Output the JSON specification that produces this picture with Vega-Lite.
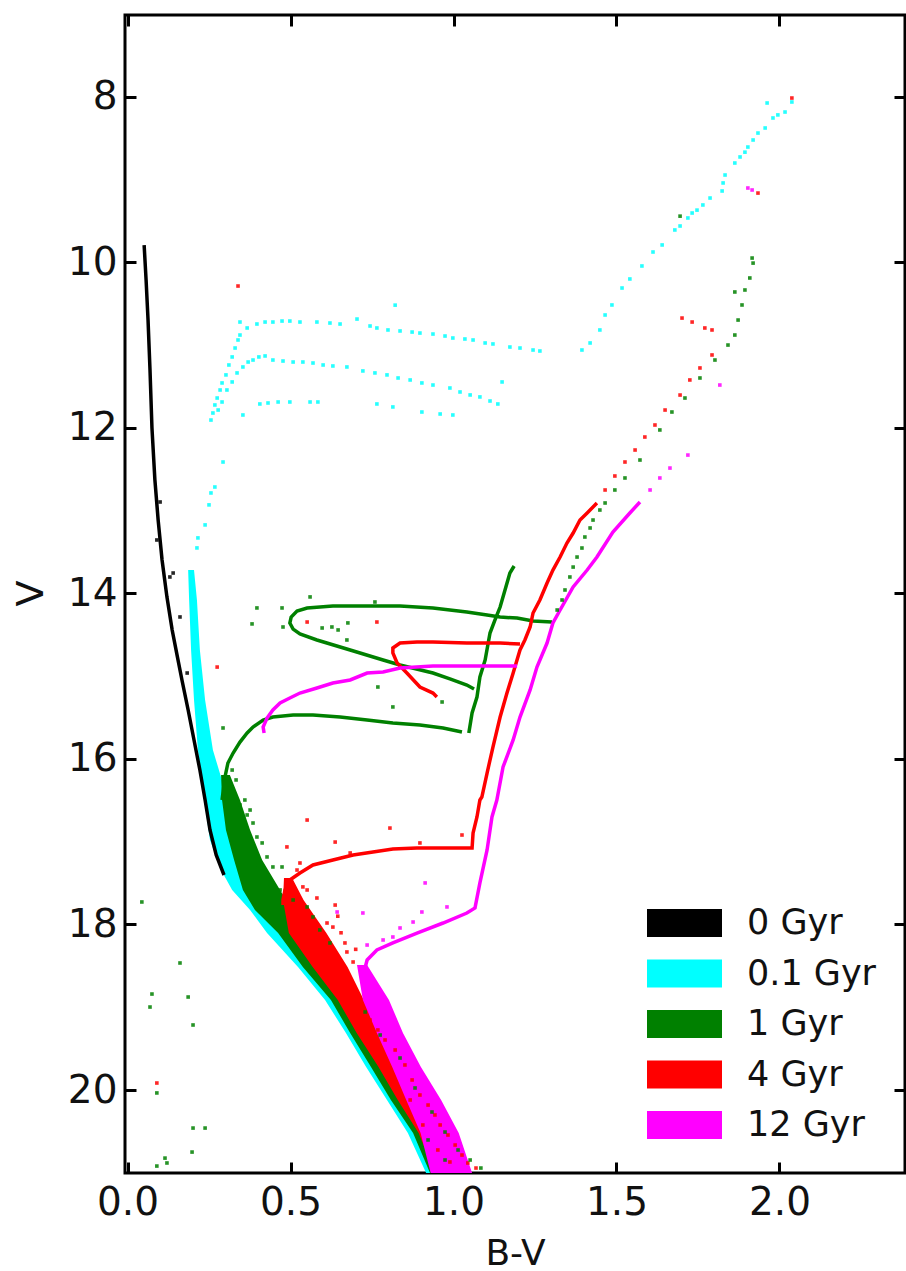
{
  "$schema": "https://vega.github.io/schema/vega-lite/v6.json",
  "autosize": "none",
  "width": 780,
  "height": 1158,
  "padding": {"left": 125, "top": 15, "right": 1, "bottom": 98},
  "background": "white",
  "config": {
    "view": {"stroke": "black", "strokeWidth": 3},
    "font": "DejaVu Sans",
    "legend": {"orient": "none", "legendX": 522, "legendY": 893, "title": null, "padding": 0,
      "symbolType": "M-1,-0.373L1,-0.373L1,0.373L-1,0.373Z", "symbolSize": 5625, "symbolOpacity": 1, "symbolStrokeWidth": 0,
      "clipHeight": 30, "rowPadding": 15.5, "labelOffset": 25, "labelFont": "DejaVu Sans", "labelFontSize": 35, "labelColor": "#111", "labelLimit": 400, "labelBaseline": "middle"}
  },
  "data": {"values": [
    {"a":"0.1 Gyr","k":"b","y":13.718,"x":0.186,"x2":0.204},
    {"a":"0.1 Gyr","k":"b","y":14.080,"x":0.189,"x2":0.213},
    {"a":"0.1 Gyr","k":"b","y":14.684,"x":0.195,"x2":0.222},
    {"a":"0.1 Gyr","k":"b","y":15.288,"x":0.204,"x2":0.238},
    {"a":"0.1 Gyr","k":"b","y":15.892,"x":0.216,"x2":0.262},
    {"a":"0.1 Gyr","k":"b","y":16.496,"x":0.235,"x2":0.308},
    {"a":"0.1 Gyr","k":"b","y":16.979,"x":0.253,"x2":0.339},
    {"a":"0.1 Gyr","k":"b","y":17.342,"x":0.287,"x2":0.364},
    {"a":"0.1 Gyr","k":"b","y":17.583,"x":0.321,"x2":0.400},
    {"a":"0.1 Gyr","k":"b","y":17.825,"x":0.376,"x2":0.456},
    {"a":"0.1 Gyr","k":"b","y":18.103,"x":0.428,"x2":0.505},
    {"a":"0.1 Gyr","k":"b","y":18.513,"x":0.523,"x2":0.590},
    {"a":"0.1 Gyr","k":"b","y":18.912,"x":0.606,"x2":0.667},
    {"a":"0.1 Gyr","k":"b","y":19.311,"x":0.670,"x2":0.729},
    {"a":"0.1 Gyr","k":"b","y":19.721,"x":0.732,"x2":0.790},
    {"a":"0.1 Gyr","k":"b","y":20.120,"x":0.796,"x2":0.851},
    {"a":"0.1 Gyr","k":"b","y":20.519,"x":0.860,"x2":0.912},
    {"a":"0.1 Gyr","k":"b","y":21.002,"x":0.916,"x2":0.959},

    {"a":"1 Gyr","k":"b","y":16.194,"x":0.287,"x2":0.314},
    {"a":"1 Gyr","k":"b","y":16.496,"x":0.290,"x2":0.345},
    {"a":"1 Gyr","k":"b","y":16.858,"x":0.302,"x2":0.376},
    {"a":"1 Gyr","k":"b","y":17.221,"x":0.327,"x2":0.413},
    {"a":"1 Gyr","k":"b","y":17.583,"x":0.354,"x2":0.468},
    {"a":"1 Gyr","k":"b","y":17.825,"x":0.391,"x2":0.505},
    {"a":"1 Gyr","k":"b","y":18.103,"x":0.462,"x2":0.540},
    {"a":"1 Gyr","k":"b","y":18.513,"x":0.538,"x2":0.610},
    {"a":"1 Gyr","k":"b","y":18.912,"x":0.624,"x2":0.680},
    {"a":"1 Gyr","k":"b","y":19.311,"x":0.683,"x2":0.740},
    {"a":"1 Gyr","k":"b","y":19.721,"x":0.747,"x2":0.805},
    {"a":"1 Gyr","k":"b","y":20.120,"x":0.808,"x2":0.870},
    {"a":"1 Gyr","k":"b","y":20.519,"x":0.876,"x2":0.937},
    {"a":"1 Gyr","k":"b","y":21.002,"x":0.928,"x2":0.995},

    {"a":"4 Gyr","k":"b","y":17.438,"x":0.480,"x2":0.505},
    {"a":"4 Gyr","k":"b","y":17.704,"x":0.477,"x2":0.540},
    {"a":"4 Gyr","k":"b","y":18.103,"x":0.495,"x2":0.610},
    {"a":"4 Gyr","k":"b","y":18.513,"x":0.568,"x2":0.675},
    {"a":"4 Gyr","k":"b","y":18.912,"x":0.645,"x2":0.725},
    {"a":"4 Gyr","k":"b","y":19.311,"x":0.703,"x2":0.775},
    {"a":"4 Gyr","k":"b","y":19.721,"x":0.770,"x2":0.830},
    {"a":"4 Gyr","k":"b","y":20.120,"x":0.829,"x2":0.888},
    {"a":"4 Gyr","k":"b","y":20.519,"x":0.893,"x2":0.948},
    {"a":"4 Gyr","k":"b","y":21.002,"x":0.943,"x2":1.010},

    {"a":"12 Gyr","k":"b","y":18.489,"x":0.704,"x2":0.735},
    {"a":"12 Gyr","k":"b","y":18.912,"x":0.722,"x2":0.802},
    {"a":"12 Gyr","k":"b","y":19.311,"x":0.765,"x2":0.845},
    {"a":"12 Gyr","k":"b","y":19.721,"x":0.812,"x2":0.900},
    {"a":"12 Gyr","k":"b","y":20.120,"x":0.855,"x2":0.962},
    {"a":"12 Gyr","k":"b","y":20.519,"x":0.899,"x2":1.016},
    {"a":"12 Gyr","k":"b","y":21.002,"x":0.930,"x2":1.057},

    {"a":"0 Gyr","k":"l","s":"k1","x":0.051,"y":9.792},
    {"a":"0 Gyr","k":"l","s":"k1","x":0.057,"y":10.214},
    {"a":"0 Gyr","k":"l","s":"k1","x":0.063,"y":10.698},
    {"a":"0 Gyr","k":"l","s":"k1","x":0.069,"y":11.302},
    {"a":"0 Gyr","k":"l","s":"k1","x":0.075,"y":12.002},
    {"a":"0 Gyr","k":"l","s":"k1","x":0.084,"y":12.630},
    {"a":"0 Gyr","k":"l","s":"k1","x":0.094,"y":13.114},
    {"a":"0 Gyr","k":"l","s":"k1","x":0.106,"y":13.597},
    {"a":"0 Gyr","k":"l","s":"k1","x":0.121,"y":14.045},
    {"a":"0 Gyr","k":"l","s":"k1","x":0.137,"y":14.442},
    {"a":"0 Gyr","k":"l","s":"k1","x":0.152,"y":14.745},
    {"a":"0 Gyr","k":"l","s":"k1","x":0.167,"y":15.046},
    {"a":"0 Gyr","k":"l","s":"k1","x":0.186,"y":15.409},
    {"a":"0 Gyr","k":"l","s":"k1","x":0.204,"y":15.771},
    {"a":"0 Gyr","k":"l","s":"k1","x":0.222,"y":16.134},
    {"a":"0 Gyr","k":"l","s":"k1","x":0.238,"y":16.496},
    {"a":"0 Gyr","k":"l","s":"k1","x":0.253,"y":16.858},
    {"a":"0 Gyr","k":"l","s":"k1","x":0.272,"y":17.160},
    {"a":"0 Gyr","k":"l","s":"k1","x":0.296,"y":17.402},

    {"a":"1 Gyr","k":"l","s":"g1","x":0.290,"y":16.496},
    {"a":"1 Gyr","k":"l","s":"g1","x":0.299,"y":16.218},
    {"a":"1 Gyr","k":"l","s":"g1","x":0.308,"y":16.049},
    {"a":"1 Gyr","k":"l","s":"g1","x":0.324,"y":15.929},
    {"a":"1 Gyr","k":"l","s":"g1","x":0.345,"y":15.796},
    {"a":"1 Gyr","k":"l","s":"g1","x":0.367,"y":15.687},
    {"a":"1 Gyr","k":"l","s":"g1","x":0.385,"y":15.615},
    {"a":"1 Gyr","k":"l","s":"g1","x":0.416,"y":15.530},
    {"a":"1 Gyr","k":"l","s":"g1","x":0.446,"y":15.494},
    {"a":"1 Gyr","k":"l","s":"g1","x":0.508,"y":15.470},
    {"a":"1 Gyr","k":"l","s":"g1","x":0.569,"y":15.470},
    {"a":"1 Gyr","k":"l","s":"g1","x":0.652,"y":15.494},
    {"a":"1 Gyr","k":"l","s":"g1","x":0.735,"y":15.530},
    {"a":"1 Gyr","k":"l","s":"g1","x":0.814,"y":15.567},
    {"a":"1 Gyr","k":"l","s":"g1","x":0.897,"y":15.591},
    {"a":"1 Gyr","k":"l","s":"g1","x":0.968,"y":15.627},
    {"a":"1 Gyr","k":"l","s":"g1","x":1.026,"y":15.675},

    {"a":"1 Gyr","k":"l","s":"g2","x":1.047,"y":15.687},
    {"a":"1 Gyr","k":"l","s":"g2","x":1.057,"y":15.445},
    {"a":"1 Gyr","k":"l","s":"g2","x":1.072,"y":15.252},
    {"a":"1 Gyr","k":"l","s":"g2","x":1.081,"y":15.010},
    {"a":"1 Gyr","k":"l","s":"g2","x":1.097,"y":14.805},
    {"a":"1 Gyr","k":"l","s":"g2","x":1.112,"y":14.479},
    {"a":"1 Gyr","k":"l","s":"g2","x":1.127,"y":14.322},
    {"a":"1 Gyr","k":"l","s":"g2","x":1.143,"y":14.165},
    {"a":"1 Gyr","k":"l","s":"g2","x":1.158,"y":13.959},
    {"a":"1 Gyr","k":"l","s":"g2","x":1.173,"y":13.754},
    {"a":"1 Gyr","k":"l","s":"g2","x":1.186,"y":13.669},

    {"a":"1 Gyr","k":"l","s":"g3","x":1.302,"y":14.346},
    {"a":"1 Gyr","k":"l","s":"g3","x":1.244,"y":14.334},
    {"a":"1 Gyr","k":"l","s":"g3","x":1.195,"y":14.298},
    {"a":"1 Gyr","k":"l","s":"g3","x":1.143,"y":14.286},
    {"a":"1 Gyr","k":"l","s":"g3","x":1.103,"y":14.262},
    {"a":"1 Gyr","k":"l","s":"g3","x":1.041,"y":14.225},
    {"a":"1 Gyr","k":"l","s":"g3","x":0.937,"y":14.177},
    {"a":"1 Gyr","k":"l","s":"g3","x":0.836,"y":14.153},
    {"a":"1 Gyr","k":"l","s":"g3","x":0.735,"y":14.153},
    {"a":"1 Gyr","k":"l","s":"g3","x":0.630,"y":14.153},
    {"a":"1 Gyr","k":"l","s":"g3","x":0.551,"y":14.177},
    {"a":"1 Gyr","k":"l","s":"g3","x":0.520,"y":14.213},
    {"a":"1 Gyr","k":"l","s":"g3","x":0.502,"y":14.286},
    {"a":"1 Gyr","k":"l","s":"g3","x":0.498,"y":14.358},
    {"a":"1 Gyr","k":"l","s":"g3","x":0.508,"y":14.431},
    {"a":"1 Gyr","k":"l","s":"g3","x":0.529,"y":14.491},
    {"a":"1 Gyr","k":"l","s":"g3","x":0.581,"y":14.563},
    {"a":"1 Gyr","k":"l","s":"g3","x":0.683,"y":14.684},
    {"a":"1 Gyr","k":"l","s":"g3","x":0.784,"y":14.805},
    {"a":"1 Gyr","k":"l","s":"g3","x":0.836,"y":14.865},
    {"a":"1 Gyr","k":"l","s":"g3","x":0.937,"y":14.962},
    {"a":"1 Gyr","k":"l","s":"g3","x":0.989,"y":15.034},
    {"a":"1 Gyr","k":"l","s":"g3","x":1.041,"y":15.107},
    {"a":"1 Gyr","k":"l","s":"g3","x":1.063,"y":15.155},

    {"a":"4 Gyr","k":"l","s":"r1","x":0.477,"y":17.765},
    {"a":"4 Gyr","k":"l","s":"r1","x":0.477,"y":17.704},
    {"a":"4 Gyr","k":"l","s":"r1","x":0.483,"y":17.583},
    {"a":"4 Gyr","k":"l","s":"r1","x":0.498,"y":17.462},
    {"a":"4 Gyr","k":"l","s":"r1","x":0.529,"y":17.378},
    {"a":"4 Gyr","k":"l","s":"r1","x":0.569,"y":17.281},
    {"a":"4 Gyr","k":"l","s":"r1","x":0.630,"y":17.221},
    {"a":"4 Gyr","k":"l","s":"r1","x":0.692,"y":17.160},
    {"a":"4 Gyr","k":"l","s":"r1","x":0.753,"y":17.124},
    {"a":"4 Gyr","k":"l","s":"r1","x":0.814,"y":17.088},
    {"a":"4 Gyr","k":"l","s":"r1","x":0.888,"y":17.076},
    {"a":"4 Gyr","k":"l","s":"r1","x":0.989,"y":17.076},
    {"a":"4 Gyr","k":"l","s":"r1","x":1.057,"y":17.076},
    {"a":"4 Gyr","k":"l","s":"r1","x":1.060,"y":16.895},
    {"a":"4 Gyr","k":"l","s":"r1","x":1.072,"y":16.701},
    {"a":"4 Gyr","k":"l","s":"r1","x":1.081,"y":16.496},
    {"a":"4 Gyr","k":"l","s":"r1","x":1.087,"y":16.460},
    {"a":"4 Gyr","k":"l","s":"r1","x":1.103,"y":16.170},
    {"a":"4 Gyr","k":"l","s":"r1","x":1.121,"y":15.856},
    {"a":"4 Gyr","k":"l","s":"r1","x":1.143,"y":15.494},
    {"a":"4 Gyr","k":"l","s":"r1","x":1.164,"y":15.204},
    {"a":"4 Gyr","k":"l","s":"r1","x":1.183,"y":14.962},
    {"a":"4 Gyr","k":"l","s":"r1","x":1.204,"y":14.684},
    {"a":"4 Gyr","k":"l","s":"r1","x":1.219,"y":14.563},
    {"a":"4 Gyr","k":"l","s":"r1","x":1.235,"y":14.406},
    {"a":"4 Gyr","k":"l","s":"r1","x":1.244,"y":14.237},
    {"a":"4 Gyr","k":"l","s":"r1","x":1.265,"y":14.080},
    {"a":"4 Gyr","k":"l","s":"r1","x":1.287,"y":13.875},
    {"a":"4 Gyr","k":"l","s":"r1","x":1.305,"y":13.718},
    {"a":"4 Gyr","k":"l","s":"r1","x":1.327,"y":13.561},
    {"a":"4 Gyr","k":"l","s":"r1","x":1.348,"y":13.392},
    {"a":"4 Gyr","k":"l","s":"r1","x":1.367,"y":13.271},
    {"a":"4 Gyr","k":"l","s":"r1","x":1.388,"y":13.114},
    {"a":"4 Gyr","k":"l","s":"r1","x":1.410,"y":13.029},
    {"a":"4 Gyr","k":"l","s":"r1","x":1.440,"y":12.908},

    {"a":"4 Gyr","k":"l","s":"r2","x":1.204,"y":14.612},
    {"a":"4 Gyr","k":"l","s":"r2","x":1.143,"y":14.600},
    {"a":"4 Gyr","k":"l","s":"r2","x":1.041,"y":14.600},
    {"a":"4 Gyr","k":"l","s":"r2","x":0.937,"y":14.587},
    {"a":"4 Gyr","k":"l","s":"r2","x":0.888,"y":14.587},
    {"a":"4 Gyr","k":"l","s":"r2","x":0.836,"y":14.600},
    {"a":"4 Gyr","k":"l","s":"r2","x":0.814,"y":14.660},
    {"a":"4 Gyr","k":"l","s":"r2","x":0.814,"y":14.720},
    {"a":"4 Gyr","k":"l","s":"r2","x":0.827,"y":14.841},
    {"a":"4 Gyr","k":"l","s":"r2","x":0.857,"y":14.962},
    {"a":"4 Gyr","k":"l","s":"r2","x":0.897,"y":15.131},
    {"a":"4 Gyr","k":"l","s":"r2","x":0.937,"y":15.204},
    {"a":"4 Gyr","k":"l","s":"r2","x":0.949,"y":15.252},

    {"a":"12 Gyr","k":"l","s":"m1","x":0.719,"y":18.670},
    {"a":"12 Gyr","k":"l","s":"m1","x":0.735,"y":18.429},
    {"a":"12 Gyr","k":"l","s":"m1","x":0.765,"y":18.308},
    {"a":"12 Gyr","k":"l","s":"m1","x":0.814,"y":18.223},
    {"a":"12 Gyr","k":"l","s":"m1","x":0.888,"y":18.103},
    {"a":"12 Gyr","k":"l","s":"m1","x":0.968,"y":17.982},
    {"a":"12 Gyr","k":"l","s":"m1","x":1.041,"y":17.861},
    {"a":"12 Gyr","k":"l","s":"m1","x":1.066,"y":17.800},
    {"a":"12 Gyr","k":"l","s":"m1","x":1.081,"y":17.498},
    {"a":"12 Gyr","k":"l","s":"m1","x":1.103,"y":17.100},
    {"a":"12 Gyr","k":"l","s":"m1","x":1.118,"y":16.701},
    {"a":"12 Gyr","k":"l","s":"m1","x":1.133,"y":16.496},
    {"a":"12 Gyr","k":"l","s":"m1","x":1.152,"y":16.097},
    {"a":"12 Gyr","k":"l","s":"m1","x":1.183,"y":15.771},
    {"a":"12 Gyr","k":"l","s":"m1","x":1.204,"y":15.494},
    {"a":"12 Gyr","k":"l","s":"m1","x":1.235,"y":15.167},
    {"a":"12 Gyr","k":"l","s":"m1","x":1.256,"y":14.890},
    {"a":"12 Gyr","k":"l","s":"m1","x":1.287,"y":14.600},
    {"a":"12 Gyr","k":"l","s":"m1","x":1.305,"y":14.358},
    {"a":"12 Gyr","k":"l","s":"m1","x":1.327,"y":14.201},
    {"a":"12 Gyr","k":"l","s":"m1","x":1.367,"y":13.923},
    {"a":"12 Gyr","k":"l","s":"m1","x":1.410,"y":13.718},
    {"a":"12 Gyr","k":"l","s":"m1","x":1.440,"y":13.561},
    {"a":"12 Gyr","k":"l","s":"m1","x":1.489,"y":13.259},
    {"a":"12 Gyr","k":"l","s":"m1","x":1.541,"y":13.029},
    {"a":"12 Gyr","k":"l","s":"m1","x":1.572,"y":12.896},

    {"a":"12 Gyr","k":"l","s":"m2","x":0.419,"y":15.687},
    {"a":"12 Gyr","k":"l","s":"m2","x":0.416,"y":15.615},
    {"a":"12 Gyr","k":"l","s":"m2","x":0.428,"y":15.506},
    {"a":"12 Gyr","k":"l","s":"m2","x":0.446,"y":15.409},
    {"a":"12 Gyr","k":"l","s":"m2","x":0.468,"y":15.324},
    {"a":"12 Gyr","k":"l","s":"m2","x":0.498,"y":15.264},
    {"a":"12 Gyr","k":"l","s":"m2","x":0.529,"y":15.204},
    {"a":"12 Gyr","k":"l","s":"m2","x":0.581,"y":15.143},
    {"a":"12 Gyr","k":"l","s":"m2","x":0.630,"y":15.083},
    {"a":"12 Gyr","k":"l","s":"m2","x":0.683,"y":15.046},
    {"a":"12 Gyr","k":"l","s":"m2","x":0.735,"y":14.962},
    {"a":"12 Gyr","k":"l","s":"m2","x":0.784,"y":14.950},
    {"a":"12 Gyr","k":"l","s":"m2","x":0.836,"y":14.901},
    {"a":"12 Gyr","k":"l","s":"m2","x":0.937,"y":14.877},
    {"a":"12 Gyr","k":"l","s":"m2","x":1.041,"y":14.877},
    {"a":"12 Gyr","k":"l","s":"m2","x":1.143,"y":14.877},
    {"a":"12 Gyr","k":"l","s":"m2","x":1.195,"y":14.877},

    {"a":"0 Gyr","k":"d","x":0.130,"y":13.802},
    {"a":"0 Gyr","k":"d","x":0.161,"y":14.285},
    {"a":"0 Gyr","k":"d","x":0.183,"y":14.962},
    {"a":"0 Gyr","k":"d","x":0.090,"y":13.355},
    {"a":"0 Gyr","k":"d","x":0.100,"y":12.896},
    {"a":"0 Gyr","k":"d","x":0.140,"y":13.754},

    {"a":"0.1 Gyr","k":"d","x":1.394,"y":11.060},
    {"a":"0.1 Gyr","k":"d","x":1.419,"y":10.975},
    {"a":"0.1 Gyr","k":"d","x":1.449,"y":10.818},
    {"a":"0.1 Gyr","k":"d","x":1.465,"y":10.637},
    {"a":"0.1 Gyr","k":"d","x":1.486,"y":10.516},
    {"a":"0.1 Gyr","k":"d","x":1.517,"y":10.311},
    {"a":"0.1 Gyr","k":"d","x":1.541,"y":10.202},
    {"a":"0.1 Gyr","k":"d","x":1.578,"y":10.045},
    {"a":"0.1 Gyr","k":"d","x":1.612,"y":9.876},
    {"a":"0.1 Gyr","k":"d","x":1.640,"y":9.791},
    {"a":"0.1 Gyr","k":"d","x":1.679,"y":9.610},
    {"a":"0.1 Gyr","k":"d","x":1.695,"y":9.562},
    {"a":"0.1 Gyr","k":"d","x":1.719,"y":9.465},
    {"a":"0.1 Gyr","k":"d","x":1.732,"y":9.405},
    {"a":"0.1 Gyr","k":"d","x":1.747,"y":9.370},
    {"a":"0.1 Gyr","k":"d","x":1.765,"y":9.308},
    {"a":"0.1 Gyr","k":"d","x":1.787,"y":9.224},
    {"a":"0.1 Gyr","k":"d","x":1.824,"y":9.139},
    {"a":"0.1 Gyr","k":"d","x":1.827,"y":9.042},
    {"a":"0.1 Gyr","k":"d","x":1.833,"y":8.946},
    {"a":"0.1 Gyr","k":"d","x":1.863,"y":8.801},
    {"a":"0.1 Gyr","k":"d","x":1.879,"y":8.728},
    {"a":"0.1 Gyr","k":"d","x":1.894,"y":8.670},
    {"a":"0.1 Gyr","k":"d","x":1.903,"y":8.608},
    {"a":"0.1 Gyr","k":"d","x":1.919,"y":8.523},
    {"a":"0.1 Gyr","k":"d","x":1.934,"y":8.439},
    {"a":"0.1 Gyr","k":"d","x":1.956,"y":8.378},
    {"a":"0.1 Gyr","k":"d","x":1.980,"y":8.257},
    {"a":"0.1 Gyr","k":"d","x":1.995,"y":8.220},
    {"a":"0.1 Gyr","k":"d","x":2.017,"y":8.185},
    {"a":"0.1 Gyr","k":"d","x":1.962,"y":8.076},
    {"a":"0.1 Gyr","k":"d","x":2.038,"y":8.064},

    {"a":"0.1 Gyr","k":"d","x":0.345,"y":10.722},
    {"a":"0.1 Gyr","k":"d","x":0.367,"y":10.794},
    {"a":"0.1 Gyr","k":"d","x":0.397,"y":10.746},
    {"a":"0.1 Gyr","k":"d","x":0.422,"y":10.722},
    {"a":"0.1 Gyr","k":"d","x":0.446,"y":10.722},
    {"a":"0.1 Gyr","k":"d","x":0.474,"y":10.710},
    {"a":"0.1 Gyr","k":"d","x":0.498,"y":10.710},
    {"a":"0.1 Gyr","k":"d","x":0.529,"y":10.722},
    {"a":"0.1 Gyr","k":"d","x":0.581,"y":10.722},
    {"a":"0.1 Gyr","k":"d","x":0.621,"y":10.734},
    {"a":"0.1 Gyr","k":"d","x":0.652,"y":10.746},
    {"a":"0.1 Gyr","k":"d","x":0.704,"y":10.686},
    {"a":"0.1 Gyr","k":"d","x":0.744,"y":10.770},
    {"a":"0.1 Gyr","k":"d","x":0.765,"y":10.794},
    {"a":"0.1 Gyr","k":"d","x":0.799,"y":10.818},
    {"a":"0.1 Gyr","k":"d","x":0.836,"y":10.830},
    {"a":"0.1 Gyr","k":"d","x":0.873,"y":10.843},
    {"a":"0.1 Gyr","k":"d","x":0.897,"y":10.855},
    {"a":"0.1 Gyr","k":"d","x":0.937,"y":10.867},
    {"a":"0.1 Gyr","k":"d","x":0.974,"y":10.891},
    {"a":"0.1 Gyr","k":"d","x":0.998,"y":10.915},
    {"a":"0.1 Gyr","k":"d","x":1.035,"y":10.927},
    {"a":"0.1 Gyr","k":"d","x":1.060,"y":10.939},
    {"a":"0.1 Gyr","k":"d","x":1.097,"y":10.975},
    {"a":"0.1 Gyr","k":"d","x":1.121,"y":10.987},
    {"a":"0.1 Gyr","k":"d","x":1.173,"y":11.024},
    {"a":"0.1 Gyr","k":"d","x":1.204,"y":11.036},
    {"a":"0.1 Gyr","k":"d","x":1.244,"y":11.060},
    {"a":"0.1 Gyr","k":"d","x":1.265,"y":11.072},

    {"a":"0.1 Gyr","k":"d","x":0.256,"y":11.906},
    {"a":"0.1 Gyr","k":"d","x":0.262,"y":11.821},
    {"a":"0.1 Gyr","k":"d","x":0.268,"y":11.724},
    {"a":"0.1 Gyr","k":"d","x":0.275,"y":11.640},
    {"a":"0.1 Gyr","k":"d","x":0.284,"y":11.543},
    {"a":"0.1 Gyr","k":"d","x":0.290,"y":11.458},
    {"a":"0.1 Gyr","k":"d","x":0.302,"y":11.361},
    {"a":"0.1 Gyr","k":"d","x":0.311,"y":11.241},
    {"a":"0.1 Gyr","k":"d","x":0.321,"y":11.144},
    {"a":"0.1 Gyr","k":"d","x":0.330,"y":11.036},
    {"a":"0.1 Gyr","k":"d","x":0.339,"y":10.939},
    {"a":"0.1 Gyr","k":"d","x":0.345,"y":10.879},

    {"a":"0.1 Gyr","k":"d","x":0.278,"y":11.785},
    {"a":"0.1 Gyr","k":"d","x":0.290,"y":11.688},
    {"a":"0.1 Gyr","k":"d","x":0.305,"y":11.543},
    {"a":"0.1 Gyr","k":"d","x":0.321,"y":11.446},
    {"a":"0.1 Gyr","k":"d","x":0.336,"y":11.337},
    {"a":"0.1 Gyr","k":"d","x":0.354,"y":11.265},
    {"a":"0.1 Gyr","k":"d","x":0.370,"y":11.205},
    {"a":"0.1 Gyr","k":"d","x":0.385,"y":11.181},
    {"a":"0.1 Gyr","k":"d","x":0.403,"y":11.144},
    {"a":"0.1 Gyr","k":"d","x":0.422,"y":11.132},
    {"a":"0.1 Gyr","k":"d","x":0.446,"y":11.181},
    {"a":"0.1 Gyr","k":"d","x":0.477,"y":11.193},
    {"a":"0.1 Gyr","k":"d","x":0.508,"y":11.205},
    {"a":"0.1 Gyr","k":"d","x":0.538,"y":11.205},
    {"a":"0.1 Gyr","k":"d","x":0.569,"y":11.217},
    {"a":"0.1 Gyr","k":"d","x":0.600,"y":11.241},
    {"a":"0.1 Gyr","k":"d","x":0.630,"y":11.253},
    {"a":"0.1 Gyr","k":"d","x":0.673,"y":11.265},
    {"a":"0.1 Gyr","k":"d","x":0.722,"y":11.313},
    {"a":"0.1 Gyr","k":"d","x":0.759,"y":11.337},
    {"a":"0.1 Gyr","k":"d","x":0.796,"y":11.361},
    {"a":"0.1 Gyr","k":"d","x":0.830,"y":11.398},
    {"a":"0.1 Gyr","k":"d","x":0.867,"y":11.422},
    {"a":"0.1 Gyr","k":"d","x":0.903,"y":11.458},
    {"a":"0.1 Gyr","k":"d","x":0.937,"y":11.483},
    {"a":"0.1 Gyr","k":"d","x":0.989,"y":11.519},
    {"a":"0.1 Gyr","k":"d","x":1.020,"y":11.567},
    {"a":"0.1 Gyr","k":"d","x":1.051,"y":11.603},
    {"a":"0.1 Gyr","k":"d","x":1.081,"y":11.627},
    {"a":"0.1 Gyr","k":"d","x":1.112,"y":11.676},
    {"a":"0.1 Gyr","k":"d","x":1.136,"y":11.712},

    {"a":"0.1 Gyr","k":"d","x":0.354,"y":11.845},
    {"a":"0.1 Gyr","k":"d","x":0.406,"y":11.712},
    {"a":"0.1 Gyr","k":"d","x":0.431,"y":11.700},
    {"a":"0.1 Gyr","k":"d","x":0.462,"y":11.688},
    {"a":"0.1 Gyr","k":"d","x":0.498,"y":11.688},
    {"a":"0.1 Gyr","k":"d","x":0.560,"y":11.688},
    {"a":"0.1 Gyr","k":"d","x":0.584,"y":11.688},
    {"a":"0.1 Gyr","k":"d","x":0.765,"y":11.712},
    {"a":"0.1 Gyr","k":"d","x":0.814,"y":11.748},
    {"a":"0.1 Gyr","k":"d","x":0.903,"y":11.809},
    {"a":"0.1 Gyr","k":"d","x":0.959,"y":11.833},
    {"a":"0.1 Gyr","k":"d","x":0.998,"y":11.845},
    {"a":"0.1 Gyr","k":"d","x":0.821,"y":10.518},
    {"a":"0.1 Gyr","k":"d","x":1.149,"y":11.446},

    {"a":"0.1 Gyr","k":"d","x":0.213,"y":13.451},
    {"a":"0.1 Gyr","k":"d","x":0.216,"y":13.330},
    {"a":"0.1 Gyr","k":"d","x":0.238,"y":13.173},
    {"a":"0.1 Gyr","k":"d","x":0.250,"y":12.931},
    {"a":"0.1 Gyr","k":"d","x":0.256,"y":12.787},
    {"a":"0.1 Gyr","k":"d","x":0.268,"y":12.715},
    {"a":"0.1 Gyr","k":"d","x":0.293,"y":12.413},

    {"a":"1 Gyr","k":"d","x":1.318,"y":14.201},
    {"a":"1 Gyr","k":"d","x":1.333,"y":14.080},
    {"a":"1 Gyr","k":"d","x":1.342,"y":13.959},
    {"a":"1 Gyr","k":"d","x":1.357,"y":13.802},
    {"a":"1 Gyr","k":"d","x":1.367,"y":13.682},
    {"a":"1 Gyr","k":"d","x":1.379,"y":13.561},
    {"a":"1 Gyr","k":"d","x":1.394,"y":13.452},
    {"a":"1 Gyr","k":"d","x":1.403,"y":13.319},
    {"a":"1 Gyr","k":"d","x":1.419,"y":13.210},
    {"a":"1 Gyr","k":"d","x":1.428,"y":13.114},
    {"a":"1 Gyr","k":"d","x":1.449,"y":12.993},
    {"a":"1 Gyr","k":"d","x":1.465,"y":12.908},
    {"a":"1 Gyr","k":"d","x":1.495,"y":12.751},
    {"a":"1 Gyr","k":"d","x":1.526,"y":12.606},
    {"a":"1 Gyr","k":"d","x":1.572,"y":12.389},
    {"a":"1 Gyr","k":"d","x":1.633,"y":12.026},
    {"a":"1 Gyr","k":"d","x":1.670,"y":11.809},
    {"a":"1 Gyr","k":"d","x":1.710,"y":11.640},
    {"a":"1 Gyr","k":"d","x":1.756,"y":11.398},
    {"a":"1 Gyr","k":"d","x":1.802,"y":11.181},
    {"a":"1 Gyr","k":"d","x":1.842,"y":11.000},
    {"a":"1 Gyr","k":"d","x":1.863,"y":10.879},
    {"a":"1 Gyr","k":"d","x":1.873,"y":10.698},
    {"a":"1 Gyr","k":"d","x":1.885,"y":10.516},
    {"a":"1 Gyr","k":"d","x":1.863,"y":10.359},
    {"a":"1 Gyr","k":"d","x":1.894,"y":10.335},
    {"a":"1 Gyr","k":"d","x":1.909,"y":10.190},
    {"a":"1 Gyr","k":"d","x":1.919,"y":10.010},
    {"a":"1 Gyr","k":"d","x":1.916,"y":9.949},
    {"a":"1 Gyr","k":"d","x":1.695,"y":9.443},

    {"a":"1 Gyr","k":"d","x":0.044,"y":17.728},
    {"a":"1 Gyr","k":"d","x":0.161,"y":18.465},
    {"a":"1 Gyr","k":"d","x":0.075,"y":18.840},
    {"a":"1 Gyr","k":"d","x":0.186,"y":18.876},
    {"a":"1 Gyr","k":"d","x":0.069,"y":18.997},
    {"a":"1 Gyr","k":"d","x":0.201,"y":19.214},
    {"a":"1 Gyr","k":"d","x":0.201,"y":20.459},
    {"a":"1 Gyr","k":"d","x":0.238,"y":20.459},
    {"a":"1 Gyr","k":"d","x":0.198,"y":20.749},
    {"a":"1 Gyr","k":"d","x":0.115,"y":20.822},
    {"a":"1 Gyr","k":"d","x":0.090,"y":20.918},
    {"a":"1 Gyr","k":"d","x":0.121,"y":20.881},
    {"a":"1 Gyr","k":"d","x":0.090,"y":20.035},
    {"a":"1 Gyr","k":"d","x":0.560,"y":14.043},
    {"a":"1 Gyr","k":"d","x":0.397,"y":14.176},
    {"a":"1 Gyr","k":"d","x":0.474,"y":14.176},
    {"a":"1 Gyr","k":"d","x":0.382,"y":14.369},
    {"a":"1 Gyr","k":"d","x":0.477,"y":14.406},
    {"a":"1 Gyr","k":"d","x":0.597,"y":14.418},
    {"a":"1 Gyr","k":"d","x":0.627,"y":14.406},
    {"a":"1 Gyr","k":"d","x":0.646,"y":14.442},
    {"a":"1 Gyr","k":"d","x":0.676,"y":14.357},
    {"a":"1 Gyr","k":"d","x":0.673,"y":14.563},
    {"a":"1 Gyr","k":"d","x":0.759,"y":14.104},
    {"a":"1 Gyr","k":"d","x":0.768,"y":15.131},
    {"a":"1 Gyr","k":"d","x":0.814,"y":15.372},
    {"a":"1 Gyr","k":"d","x":0.965,"y":15.312},
    {"a":"1 Gyr","k":"d","x":0.293,"y":15.626},
    {"a":"1 Gyr","k":"d","x":0.345,"y":16.556},
    {"a":"1 Gyr","k":"d","x":0.367,"y":16.677},
    {"a":"1 Gyr","k":"d","x":0.385,"y":16.774},
    {"a":"1 Gyr","k":"d","x":0.397,"y":16.943},
    {"a":"1 Gyr","k":"d","x":0.413,"y":17.015},
    {"a":"1 Gyr","k":"d","x":0.428,"y":17.184},
    {"a":"1 Gyr","k":"d","x":0.446,"y":17.305},
    {"a":"1 Gyr","k":"d","x":0.474,"y":17.305},
    {"a":"1 Gyr","k":"d","x":0.416,"y":17.426},
    {"a":"1 Gyr","k":"d","x":0.437,"y":17.546},
    {"a":"1 Gyr","k":"d","x":0.468,"y":17.583},
    {"a":"1 Gyr","k":"d","x":0.508,"y":17.704},
    {"a":"1 Gyr","k":"d","x":0.551,"y":17.788},
    {"a":"1 Gyr","k":"d","x":0.569,"y":17.909},
    {"a":"1 Gyr","k":"d","x":0.590,"y":18.066},
    {"a":"1 Gyr","k":"d","x":0.621,"y":18.223},
    {"a":"1 Gyr","k":"d","x":0.314,"y":16.375},
    {"a":"1 Gyr","k":"d","x":0.330,"y":16.436},
    {"a":"1 Gyr","k":"d","x":0.360,"y":16.496},
    {"a":"1 Gyr","k":"d","x":0.376,"y":16.617},
    {"a":"1 Gyr","k":"d","x":0.339,"y":16.858},
    {"a":"1 Gyr","k":"d","x":0.360,"y":17.100},
    {"a":"1 Gyr","k":"d","x":0.391,"y":17.281},
    {"a":"1 Gyr","k":"d","x":0.308,"y":16.315},
    {"a":"1 Gyr","k":"d","x":0.321,"y":16.134},
    {"a":"1 Gyr","k":"d","x":0.333,"y":16.254},

    {"a":"4 Gyr","k":"d","x":1.465,"y":12.751},
    {"a":"4 Gyr","k":"d","x":1.495,"y":12.582},
    {"a":"4 Gyr","k":"d","x":1.526,"y":12.413},
    {"a":"4 Gyr","k":"d","x":1.557,"y":12.268},
    {"a":"4 Gyr","k":"d","x":1.587,"y":12.111},
    {"a":"4 Gyr","k":"d","x":1.618,"y":11.966},
    {"a":"4 Gyr","k":"d","x":1.649,"y":11.785},
    {"a":"4 Gyr","k":"d","x":1.695,"y":11.604},
    {"a":"4 Gyr","k":"d","x":1.725,"y":11.422},
    {"a":"4 Gyr","k":"d","x":1.756,"y":11.277},
    {"a":"4 Gyr","k":"d","x":1.793,"y":11.120},
    {"a":"4 Gyr","k":"d","x":1.701,"y":10.674},
    {"a":"4 Gyr","k":"d","x":1.732,"y":10.722},
    {"a":"4 Gyr","k":"d","x":1.793,"y":10.818},
    {"a":"4 Gyr","k":"d","x":1.771,"y":10.794},
    {"a":"4 Gyr","k":"d","x":2.038,"y":8.016},
    {"a":"4 Gyr","k":"d","x":1.934,"y":9.164},
    {"a":"4 Gyr","k":"d","x":0.339,"y":10.287},
    {"a":"4 Gyr","k":"d","x":0.090,"y":19.915},
    {"a":"4 Gyr","k":"d","x":0.551,"y":16.738},
    {"a":"4 Gyr","k":"d","x":0.637,"y":17.004},
    {"a":"4 Gyr","k":"d","x":0.805,"y":16.835},
    {"a":"4 Gyr","k":"d","x":1.026,"y":16.919},
    {"a":"4 Gyr","k":"d","x":0.897,"y":17.015},
    {"a":"4 Gyr","k":"d","x":0.683,"y":17.136},
    {"a":"4 Gyr","k":"d","x":0.489,"y":17.063},
    {"a":"4 Gyr","k":"d","x":0.529,"y":17.257},
    {"a":"4 Gyr","k":"d","x":0.520,"y":17.342},
    {"a":"4 Gyr","k":"d","x":0.538,"y":17.546},
    {"a":"4 Gyr","k":"d","x":0.551,"y":17.583},
    {"a":"4 Gyr","k":"d","x":0.581,"y":17.680},
    {"a":"4 Gyr","k":"d","x":0.612,"y":17.982},
    {"a":"4 Gyr","k":"d","x":0.630,"y":18.031},
    {"a":"4 Gyr","k":"d","x":0.667,"y":18.223},
    {"a":"4 Gyr","k":"d","x":0.673,"y":18.332},
    {"a":"4 Gyr","k":"d","x":0.692,"y":18.453},
    {"a":"4 Gyr","k":"d","x":0.551,"y":14.346},
    {"a":"4 Gyr","k":"d","x":0.765,"y":14.346},
    {"a":"4 Gyr","k":"d","x":0.275,"y":14.890},
    {"a":"4 Gyr","k":"d","x":0.498,"y":17.885},
    {"a":"4 Gyr","k":"d","x":0.523,"y":18.006},
    {"a":"4 Gyr","k":"d","x":0.560,"y":18.187},
    {"a":"4 Gyr","k":"d","x":0.597,"y":18.369},
    {"a":"4 Gyr","k":"d","x":0.637,"y":17.765},
    {"a":"4 Gyr","k":"d","x":0.655,"y":18.100},
    {"a":"4 Gyr","k":"d","x":0.700,"y":18.300},
    {"a":"4 Gyr","k":"d","x":0.645,"y":17.900},

    {"a":"12 Gyr","k":"d","x":1.603,"y":12.751},
    {"a":"12 Gyr","k":"d","x":1.633,"y":12.606},
    {"a":"12 Gyr","k":"d","x":1.664,"y":12.486},
    {"a":"12 Gyr","k":"d","x":1.719,"y":12.329},
    {"a":"12 Gyr","k":"d","x":1.817,"y":11.483},
    {"a":"12 Gyr","k":"d","x":1.903,"y":9.103},
    {"a":"12 Gyr","k":"d","x":1.916,"y":9.127},
    {"a":"12 Gyr","k":"d","x":0.913,"y":17.498},
    {"a":"12 Gyr","k":"d","x":0.643,"y":17.849},
    {"a":"12 Gyr","k":"d","x":0.722,"y":17.861},
    {"a":"12 Gyr","k":"d","x":0.903,"y":17.849},
    {"a":"12 Gyr","k":"d","x":0.980,"y":17.788},
    {"a":"12 Gyr","k":"d","x":0.836,"y":18.042},
    {"a":"12 Gyr","k":"d","x":0.876,"y":17.970},
    {"a":"12 Gyr","k":"d","x":0.735,"y":18.248},
    {"a":"12 Gyr","k":"d","x":0.784,"y":18.187},
    {"a":"12 Gyr","k":"d","x":0.814,"y":18.151},

    {"a":"4 Gyr","k":"d","x":0.790,"y":19.395},
    {"a":"4 Gyr","k":"d","x":0.821,"y":19.516},
    {"a":"4 Gyr","k":"d","x":0.851,"y":19.697},
    {"a":"4 Gyr","k":"d","x":0.873,"y":19.878},
    {"a":"4 Gyr","k":"d","x":0.897,"y":20.060},
    {"a":"4 Gyr","k":"d","x":0.922,"y":20.181},
    {"a":"4 Gyr","k":"d","x":0.943,"y":20.301},
    {"a":"4 Gyr","k":"d","x":0.959,"y":20.422},
    {"a":"4 Gyr","k":"d","x":0.983,"y":20.543},
    {"a":"4 Gyr","k":"d","x":1.005,"y":20.664},
    {"a":"4 Gyr","k":"d","x":1.026,"y":20.785},
    {"a":"4 Gyr","k":"d","x":1.044,"y":20.881},
    {"a":"4 Gyr","k":"d","x":1.069,"y":20.942},
    {"a":"4 Gyr","k":"d","x":0.768,"y":19.274},
    {"a":"4 Gyr","k":"d","x":0.744,"y":19.154},
    {"a":"4 Gyr","k":"d","x":0.906,"y":20.422},
    {"a":"4 Gyr","k":"d","x":0.952,"y":20.724},
    {"a":"4 Gyr","k":"d","x":0.989,"y":20.869},
    {"a":"4 Gyr","k":"d","x":0.867,"y":20.120},
    {"a":"1 Gyr","k":"d","x":0.836,"y":19.613},
    {"a":"1 Gyr","k":"d","x":0.882,"y":19.975},
    {"a":"1 Gyr","k":"d","x":0.934,"y":20.265},
    {"a":"1 Gyr","k":"d","x":0.974,"y":20.507},
    {"a":"1 Gyr","k":"d","x":1.014,"y":20.724},
    {"a":"1 Gyr","k":"d","x":1.051,"y":20.845},
    {"a":"1 Gyr","k":"d","x":1.084,"y":20.942},
    {"a":"1 Gyr","k":"d","x":0.775,"y":19.335},
    {"a":"1 Gyr","k":"d","x":0.729,"y":19.057},
    {"a":"1 Gyr","k":"d","x":0.974,"y":20.845},
    {"a":"1 Gyr","k":"d","x":0.922,"y":20.603}
  ]},
  "resolve": {"axis": {"x": "independent", "y": "independent"}},
  "layer": [
    {
      "transform": [{"filter": "datum.k === 'b' && datum.a === '0.1 Gyr'"}],
      "mark": {"type": "area", "orient": "horizontal", "clip": true},
      "encoding": {
        "y": {"field": "y", "type": "quantitative", "scale": {"domain": [7.013, 21.002], "reverse": true, "nice": false, "zero": false},
          "axis": {"orient": "left", "title": "V", "values": [8,10,12,14,16,18,20], "format": "d", "grid": false, "domain": false,
            "tickSize": -11, "tickWidth": 3, "tickColor": "black", "labelFont": "DejaVu Sans", "labelFontSize": 39, "labelColor": "#111",
            "labelPadding": 19, "labelFlush": false, "titleFont": "DejaVu Sans", "titleFontSize": 38, "titleFontWeight": "normal", "titleColor": "#111",
            "titleX": -94, "titleY": 578, "titleAngle": -90, "titleAlign": "center", "titleBaseline": "middle"}},
        "x": {"field": "x", "type": "quantitative", "scale": {"domain": [-0.0077, 2.385], "nice": false, "zero": false},
          "axis": {"orient": "bottom", "title": "B-V", "values": [0,0.5,1,1.5,2], "format": ".1f", "grid": false, "domain": false,
            "tickSize": -11, "tickWidth": 3, "tickColor": "black", "labelFont": "DejaVu Sans", "labelFontSize": 39, "labelColor": "#111",
            "labelPadding": 21, "labelFlush": false, "titleFont": "DejaVu Sans", "titleFontSize": 36, "titleFontWeight": "normal", "titleColor": "#111",
            "titleY": 91, "titleBaseline": "alphabetic"}},
        "x2": {"field": "x2"},
        "color": {"field": "a", "type": "nominal", "scale": {"domain": ["0 Gyr","0.1 Gyr","1 Gyr","4 Gyr","12 Gyr"], "range": ["#000000","#00ffff","#008000","#ff0000","#ff00ff"]}}
      }
    },
    {
      "transform": [{"filter": "datum.k === 'b' && datum.a === '1 Gyr'"}],
      "mark": {"type": "area", "orient": "horizontal", "clip": true},
      "encoding": {
        "y": {"field": "y", "type": "quantitative", "scale": {"domain": [7.013, 21.002], "reverse": true, "nice": false, "zero": false},
          "axis": {"orient": "right", "title": null, "labels": false, "values": [8,10,12,14,16,18,20], "grid": false, "domain": false, "tickSize": -11, "tickWidth": 3, "tickColor": "black"}},
        "x": {"field": "x", "type": "quantitative", "scale": {"domain": [-0.0077, 2.385], "nice": false, "zero": false},
          "axis": {"orient": "top", "title": null, "labels": false, "values": [0,0.5,1,1.5,2], "grid": false, "domain": false, "tickSize": -11, "tickWidth": 3, "tickColor": "black"}},
        "x2": {"field": "x2"},
        "color": {"field": "a", "type": "nominal", "scale": {"domain": ["0 Gyr","0.1 Gyr","1 Gyr","4 Gyr","12 Gyr"], "range": ["#000000","#00ffff","#008000","#ff0000","#ff00ff"]}}
      }
    },
    {
      "transform": [{"filter": "datum.k === 'b' && datum.a === '4 Gyr'"}],
      "mark": {"type": "area", "orient": "horizontal", "clip": true},
      "encoding": {
        "y": {"field": "y", "type": "quantitative", "axis": null},
        "x": {"field": "x", "type": "quantitative", "axis": null},
        "x2": {"field": "x2"},
        "color": {"field": "a", "type": "nominal", "scale": {"domain": ["0 Gyr","0.1 Gyr","1 Gyr","4 Gyr","12 Gyr"], "range": ["#000000","#00ffff","#008000","#ff0000","#ff00ff"]}}
      }
    },
    {
      "transform": [{"filter": "datum.k === 'b' && datum.a === '12 Gyr'"}],
      "mark": {"type": "area", "orient": "horizontal", "clip": true},
      "encoding": {
        "y": {"field": "y", "type": "quantitative", "axis": null},
        "x": {"field": "x", "type": "quantitative", "axis": null},
        "x2": {"field": "x2"},
        "color": {"field": "a", "type": "nominal", "scale": {"domain": ["0 Gyr","0.1 Gyr","1 Gyr","4 Gyr","12 Gyr"], "range": ["#000000","#00ffff","#008000","#ff0000","#ff00ff"]}}
      }
    },
    {
      "transform": [{"filter": "datum.k === 'l'"}],
      "mark": {"type": "line", "strokeWidth": 3.5, "clip": true},
      "encoding": {
        "y": {"field": "y", "type": "quantitative", "axis": null},
        "x": {"field": "x", "type": "quantitative", "axis": null},
        "detail": {"field": "s"},
        "order": {"value": null},
        "color": {"field": "a", "type": "nominal", "scale": {"domain": ["0 Gyr","0.1 Gyr","1 Gyr","4 Gyr","12 Gyr"], "range": ["#000000","#00ffff","#008000","#ff0000","#ff00ff"]}}
      }
    },
    {
      "transform": [{"filter": "datum.k === 'd'"}],
      "mark": {"type": "square", "size": 13, "opacity": 0.85, "clip": true},
      "encoding": {
        "y": {"field": "y", "type": "quantitative", "axis": null},
        "x": {"field": "x", "type": "quantitative", "axis": null},
        "color": {"field": "a", "type": "nominal", "scale": {"domain": ["0 Gyr","0.1 Gyr","1 Gyr","4 Gyr","12 Gyr"], "range": ["#000000","#00ffff","#008000","#ff0000","#ff00ff"]}}
      }
    }
  ]
}
